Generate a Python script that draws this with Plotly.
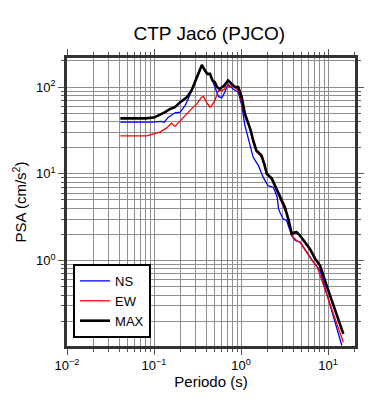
import plotly.graph_objects as go

# ---- data ----
t_ns = [0.041, 0.094, 0.123, 0.131, 0.146, 0.174, 0.2, 0.227, 0.247, 0.27, 0.30, 0.33, 0.355, 0.385,
        0.41, 0.44, 0.47, 0.50, 0.55, 0.6, 0.65, 0.71, 0.81, 0.93, 1.02, 1.11, 1.2, 1.27, 1.38, 1.58,
        1.8, 2.04, 2.35, 2.6, 2.7, 2.8, 3.05, 3.34, 3.83, 4.2, 4.77, 5.7, 6.8, 8.1, 14.4]
psa_ns = [39.4, 39.4, 40.3, 39.4, 45, 50.5, 51.5, 61, 73, 90, 118, 154, 178, 154,
          141, 141, 118, 100, 78, 75, 87, 108, 95, 87, 61, 36, 26, 22, 15.5, 12.5,
          9.1, 7.3, 7.0, 5.4, 3.94, 3.6, 3.02, 2.9, 1.94, 1.7, 1.63, 1.25, 0.96, 0.77, 0.105]

t_ew = [0.041, 0.083, 0.098, 0.117, 0.14, 0.159, 0.174, 0.2, 0.227, 0.25, 0.27, 0.31, 0.35, 0.37,
        0.40, 0.44, 0.46, 0.50, 0.55, 0.60, 0.65, 0.68, 0.73, 0.80, 0.89, 0.97, 1.05, 1.16, 1.21,
        1.3, 1.38, 1.5, 1.58, 1.72, 1.85, 1.98, 2.26, 2.6, 2.97, 3.2, 3.5, 3.83, 4.35, 4.77, 6.2,
        7.5, 15.0]
psa_ew = [27.3, 27.3, 28.9, 30.3, 33.8, 38.4, 35.2, 41, 47, 51.5, 56, 64, 76, 78,
          67, 58.6, 61, 70, 91, 91, 95, 114, 100, 104, 95, 84, 56, 41, 38,
          30, 23, 18, 17, 15.5, 12.5, 9.8, 8.6, 6.2, 4.5, 3.8, 2.9, 1.94, 1.7, 1.63, 1.09,
          0.84, 0.114]

t_max = [0.041, 0.08, 0.10, 0.112, 0.134, 0.153, 0.174, 0.2, 0.227, 0.238, 0.27, 0.30, 0.33, 0.355,
         0.385, 0.41, 0.44, 0.47, 0.50, 0.53, 0.57, 0.64, 0.71, 0.78, 0.85, 0.93, 1.02, 1.11, 1.21,
         1.3, 1.38, 1.5, 1.58, 1.72, 1.85, 1.98, 2.26, 2.6, 2.97, 3.2, 3.5, 3.83, 4.1, 4.35, 4.77,
         5.5, 6.2, 7.1, 8.1, 9.8, 12.0, 15.0]
psa_max = [43.6, 43.6, 44.5, 47, 51.5, 56, 58.6, 67, 73, 76, 91, 119, 155, 180,
           155, 142, 142, 119, 114, 100, 95, 104, 119, 108, 100, 100, 76, 49, 38,
           31, 24.2, 18.6, 17.7, 16.3, 13, 10.0, 8.8, 6.4, 4.7, 4.1, 3.0, 2.03, 2.1, 2.12, 1.94,
           1.6, 1.36, 1.05, 0.875, 0.49, 0.275, 0.143]

x_ticks = [0.01, 0.1, 1, 10]
x_ticktext = ["10<sup>−2</sup>", "10<sup>−1</sup>", "10<sup>0</sup>", "10<sup>1</sup>"]
y_ticks = [1, 10, 100]
y_ticktext = ["10<sup>0</sup>", "10<sup>1</sup>", "10<sup>2</sup>"]

x_minor = [m * 10 ** e for e in range(-2, 2) for m in range(2, 10)]
y_minor = [m * 10 ** e for e in range(-1, 3) for m in range(2, 10)]

FONT = "Liberation Sans, Arial, Helvetica, sans-serif"

fig = go.Figure()
fig.add_trace(go.Scatter(x=t_ns, y=psa_ns, mode="lines", name="NS",
                         line=dict(color="#0000ff", width=1.3)))
fig.add_trace(go.Scatter(x=t_ew, y=psa_ew, mode="lines", name="EW",
                         line=dict(color="#ff0000", width=1.3)))
fig.add_trace(go.Scatter(x=t_max, y=psa_max, mode="lines", name="MAX",
                         line=dict(color="#000000", width=2.6)))

axis_common = dict(
    automargin=False,
    showline=True, linecolor="#333333", linewidth=2.5, mirror="ticks",
    ticks="outside", ticklen=6, tickwidth=1, tickcolor="#555555",
    showgrid=True, gridcolor="#8f8f8f", gridwidth=1, zeroline=False,
    tickfont=dict(size=13, color="#000000", family=FONT),
)

fig.update_xaxes(type="log", range=[-2, 1.31], tickmode="array", tickvals=x_ticks,
                 ticktext=x_ticktext,
                 minor=dict(tickmode="array", tickvals=x_minor, ticks="outside", ticklen=3,
                            tickcolor="#555555", showgrid=True, gridcolor="#8f8f8f", gridwidth=1),
                 title=dict(text="Periodo (s)", font=dict(size=15, family=FONT, color="#000"),
                            standoff=4),
                 **axis_common)
fig.update_yaxes(type="log", range=[-0.985, 2.335], tickmode="array", tickvals=y_ticks,
                 ticktext=y_ticktext,
                 minor=dict(tickmode="array", tickvals=y_minor, ticks="outside", ticklen=3,
                            tickcolor="#555555", showgrid=True, gridcolor="#8f8f8f", gridwidth=1),
                 title=dict(text="PSA (cm/s<sup>2</sup>)", font=dict(size=15, family=FONT, color="#000"),
                            standoff=6),
                 **axis_common)

# page body has an 8px margin, so the figure is sized to fit the 390x400 window
fig.update_layout(
    width=382, height=392,
    margin=dict(l=59, r=35, t=50, b=54, autoexpand=False),
    paper_bgcolor="white", plot_bgcolor="white",
    font=dict(family=FONT, color="#000"),
    title=dict(text="CTP Jacó (PJCO)", x=0.527, xanchor="center", y=0.936, yanchor="middle",
               font=dict(size=19, family=FONT, color="#000")),
    showlegend=True,
    legend=dict(x=0.021, y=0.028, xanchor="left", yanchor="bottom",
                bgcolor="white", bordercolor="#000000", borderwidth=2,
                font=dict(size=13, family=FONT, color="#000"), itemwidth=30),
)

fig.write_html("out.html")
